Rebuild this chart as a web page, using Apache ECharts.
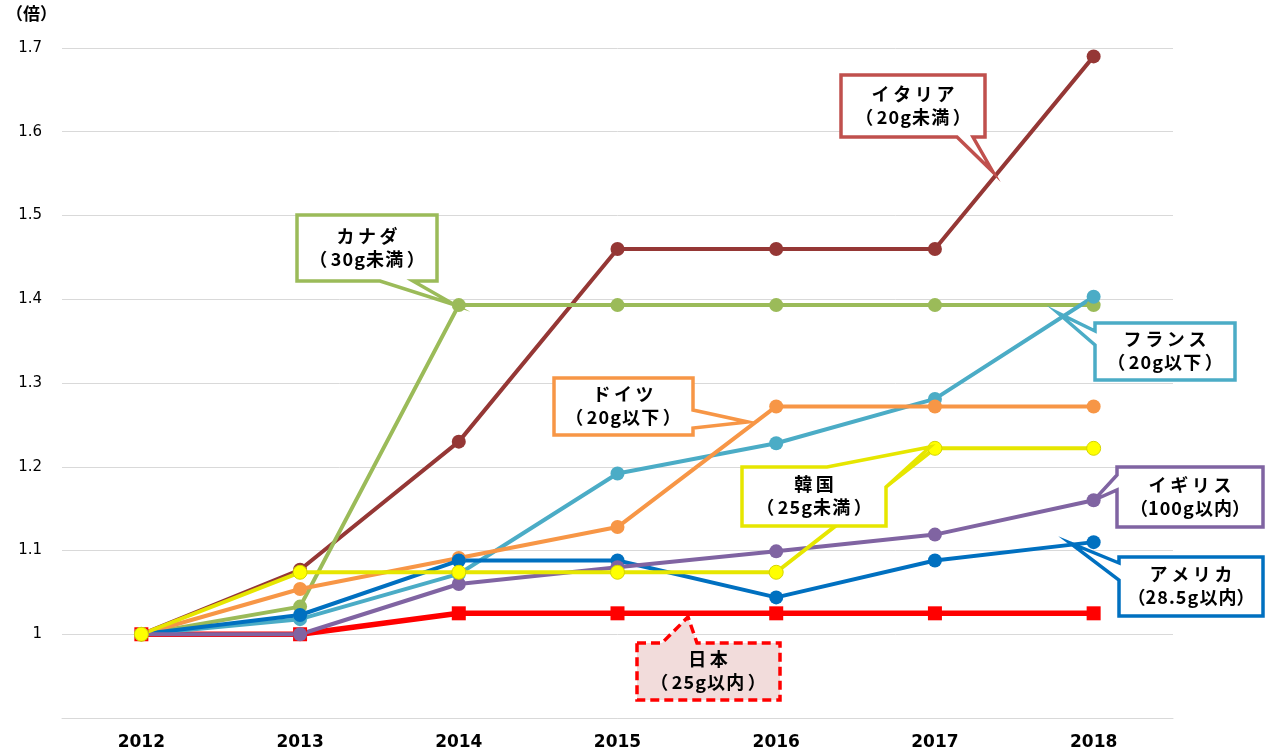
<!DOCTYPE html>
<html><head><meta charset="utf-8">
<script src="https://cdn.jsdelivr.net/npm/echarts@6/dist/echarts.min.js"></script>
<style>html,body{margin:0;padding:0;background:#fff}#c{width:1268px;height:755px}</style>
</head><body><div id="c"></div>
<script>
const years = ['2012','2013','2014','2015','2016','2017','2018'];
const japan   = [1.0, 1.0,   1.025, 1.025, 1.025, 1.025, 1.025];
const italy   = [1.0, 1.077, 1.23,  1.46,  1.46,  1.46,  1.69];
const canada  = [1.0, 1.033, 1.393, 1.393, 1.393, 1.393, 1.393];
const france  = [1.0, 1.018, 1.072, 1.192, 1.228, 1.281, 1.403];
const germany = [1.0, 1.054, 1.091, 1.128, 1.272, 1.272, 1.272];
const usa     = [1.0, 1.023, 1.088, 1.088, 1.044, 1.088, 1.11];
const uk      = [1.0, 1.0,   1.06,  1.08,  1.099, 1.119, 1.16];
const korea   = [1.0, 1.074, 1.074, 1.074, 1.074, 1.222, 1.222];
const yTicks = ['', '1', '1.1', '1.2', '1.3', '1.4', '1.5', '1.6', '1.7'];

const chart = echarts.init(document.getElementById('c'));
function line(name, data, color, opts) {
  opts = opts || {};
  return {
    name, type: 'line', data,
    symbol: opts.symbol || 'circle', symbolSize: opts.size || 14,
    lineStyle: { color: opts.lineColor || color, width: opts.width || 4 },
    itemStyle: { color, borderColor: opts.border || color, borderWidth: opts.border ? 1 : 0 },
    emphasis: { disabled: true }, animation: false
  };
}
const jp = '"Noto Sans CJK JP", sans-serif';
function spaced(s, sep) { return s.split('').join(sep); }
function paren(s, wide) {
  const inner = s.slice(1, -1);
  if (wide) return '（\u2009' + spaced(inner, '\u200A') + '\u2009）';
  return '（' + spaced(inner, '\u200A') + '）';
}
function callout(points, lines, cx, cy, color, fill, dashed, narrow) {
  return [
    { type: 'polygon', z: 100, shape: { points },
      style: { fill: fill || '#fff', stroke: color, lineWidth: 3.5, lineDash: dashed ? [9, 5] : null, lineJoin: 'miter' } },
    { type: 'text', z: 101, x: cx, y: cy - 12,
      style: { text: spaced(lines[0], '\u2009'), font: 'bold 18px ' + jp, fill: '#000', align: 'center', verticalAlign: 'middle' } },
    { type: 'text', z: 101, x: cx, y: cy + 11,
      style: { text: paren(lines[1], !narrow), font: 'bold 18px ' + jp, fill: '#000', align: 'center', verticalAlign: 'middle' } }
  ];
}
const graphics = [].concat(
  [{ type: 'text', x: 6, y: 5, style: { text: '（倍）', font: 'bold 17px ' + jp, fill: '#000' } }],
  callout([[841,75],[985,75],[985,137],[973,137],[993,172],[957,137],[841,137]], ['イタリア','（20g未満）'], 913, 106, '#C0504D'),
  callout([[297,215],[437,215],[437,281],[413,281],[455,305],[380,281],[297,281]], ['カナダ','（30g未満）'], 367, 248, '#9BBB59'),
  callout([[554,378],[693,378],[693,410],[748,422],[693,428],[693,435],[554,435]], ['ドイツ','（20g以下）'], 623, 406, '#F79646'),
  callout([[742,467],[827,467],[930,447],[886,487],[886,526],[742,526]], ['韓国','（25g未満）'], 814, 496, '#E6E600'),
  callout([[1095,323],[1235,323],[1235,380],[1095,380],[1095,345],[1058,313],[1095,331]], ['フランス','（20g以下）'], 1165, 351, '#4BACC6'),
  callout([[1117,467],[1263,467],[1263,527],[1117,527],[1117,490],[1094,500],[1117,475]], ['イギリス','（100g以内）'], 1190, 497, '#8064A2', null, false, true),
  callout([[1119,557],[1263,557],[1263,616],[1119,616],[1119,580],[1070,543],[1119,563]], ['アメリカ','（28.5g以内）'], 1191, 586, '#0070C0', null, false, true),
  callout([[637,643],[662,643],[688,617],[697,643],[780,643],[780,700],[637,700]], ['日本','（25g以内）'], 708, 671, '#FF0000', '#F2DCDB', true)
);
chart.setOption({
  animation: false,
  grid: { left: 62, right: 95, top: 48, bottom: 37 },
  xAxis: {
    type: 'category', data: years, boundaryGap: true,
    axisLine: { lineStyle: { color: '#d9d9d9', width: 1 } },
    axisTick: { show: false },
    axisLabel: { color: '#000', fontWeight: 'bold', fontSize: 17, fontFamily: 'DejaVu Sans', margin: 16 }
  },
  yAxis: {
    type: 'value', min: 0.9, max: 1.7, interval: 0.1,
    axisLine: { show: false }, axisTick: { show: false },
    splitLine: { lineStyle: { color: '#d9d9d9', width: 1 } },
    axisLabel: { color: '#000', fontSize: 15, fontFamily: 'DejaVu Sans', margin: 20,
      formatter: function (v) { return yTicks[Math.round((v - 0.9) * 10)]; } }
  },
  series: [
    line('日本', japan, '#FF0000', { symbol: 'rect', width: 5.5, size: 14 }),
    line('イタリア', italy, '#953735'),
    line('カナダ', canada, '#9BBB59'),
    line('フランス', france, '#4BACC6'),
    line('ドイツ', germany, '#F79646'),
    line('アメリカ', usa, '#0070C0'),
    line('イギリス', uk, '#8064A2'),
    line('韓国', korea, '#FFFF00', { lineColor: '#E6E600', border: '#D4D400' })
  ],
  graphic: graphics
});
</script></body></html>
